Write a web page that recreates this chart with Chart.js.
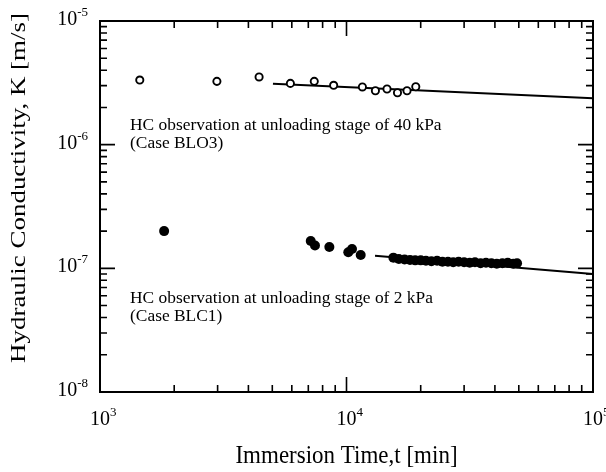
<!DOCTYPE html>
<html><head><meta charset="utf-8">
<script src="https://cdn.jsdelivr.net/npm/chart.js@4/dist/chart.umd.min.js"></script>
<style>html,body{margin:0;padding:0;background:#fff}#wrap{width:606px;height:472px}</style>
</head><body><div id="wrap"><canvas id="c" width="606" height="472"></canvas></div>
<script>
// ---- data ----
const blo3Time = [1450, 2980, 4420, 5920, 7400, 8870, 11600, 13100, 14600, 16100, 17600, 19100];
const blo3K    = [3.33e-6, 3.25e-6, 3.53e-6, 3.13e-6, 3.25e-6, 3.02e-6, 2.93e-6, 2.73e-6, 2.82e-6, 2.63e-6, 2.73e-6, 2.94e-6];

const blc1Time = [1820, 7160, 7450, 8520, 10170, 10530, 11420,
                  15500, 16300, 17200, 18100, 19000, 20000, 21000, 22100, 23300, 24500, 25800, 27100,
                  28500, 30000, 31600, 33200, 35000, 36800, 38700, 40700, 42900, 45100, 47500, 49200];
const blc1K    = [2.0e-7, 1.665e-7, 1.53e-7, 1.49e-7, 1.35e-7, 1.435e-7, 1.28e-7,
                  1.22e-7, 1.19e-7, 1.18e-7, 1.17e-7, 1.16e-7, 1.16e-7, 1.15e-7, 1.14e-7, 1.15e-7, 1.13e-7, 1.13e-7, 1.12e-7,
                  1.13e-7, 1.12e-7, 1.11e-7, 1.12e-7, 1.10e-7, 1.11e-7, 1.10e-7, 1.09e-7, 1.10e-7, 1.11e-7, 1.09e-7, 1.10e-7];

const fit40Time = [5030, 100000];
const fit40K    = [3.11e-6, 2.37e-6];
const fit2Time  = [13050, 100000];
const fit2K     = [1.266e-7, 9.01e-8];

const xTickExps = [3, 4, 5];
const yTickExps = [-8, -7, -6, -5];
const xTitle = "Immersion Time,t [min]";
const yTitle = "Hydraulic Conductivity, K [m/s]";
const notes = [
  {t: 1324, k: 1.315e-6, lines: ["HC observation at unloading stage of 40 kPa", "(Case BLO3)"]},
  {t: 1324, k: 5.25e-8, lines: ["HC observation at unloading stage of 2 kPa", "(Case BLC1)"]}
];

const pts = (xs, ys) => xs.map((x, i) => ({x: x, y: ys[i]}));
const SERIF = '"Liberation Serif", "Times New Roman", serif';

const framePlugin = {
  id: 'frame',
  afterDraw(chart) {
    const ctx = chart.ctx, a = chart.chartArea;
    const xs = chart.scales.x, ys = chart.scales.y;
    ctx.save();
    ctx.strokeStyle = '#000'; ctx.fillStyle = '#000';
    ctx.lineWidth = 2;
    ctx.strokeRect(a.left, a.top, a.right - a.left, a.bottom - a.top);
    ctx.lineWidth = 1.6;
    ctx.beginPath();
    for (let e = xTickExps[0]; e < xTickExps[xTickExps.length - 1]; e++) {
      for (let m = 1; m <= 9; m++) {
        const px = xs.getPixelForValue(m * Math.pow(10, e));
        const len = (m === 1) ? 15 : 7;
        ctx.moveTo(px, a.bottom); ctx.lineTo(px, a.bottom - len);
        ctx.moveTo(px, a.top); ctx.lineTo(px, a.top + len);
      }
    }
    for (let e = yTickExps[0]; e < yTickExps[yTickExps.length - 1]; e++) {
      for (let m = 1; m <= 9; m++) {
        const py = ys.getPixelForValue(m * Math.pow(10, e));
        const len = (m === 1) ? 15 : 7;
        ctx.moveTo(a.left, py); ctx.lineTo(a.left + len, py);
        ctx.moveTo(a.right, py); ctx.lineTo(a.right - len, py);
      }
    }
    ctx.stroke();

    const big = '20px ' + SERIF, small = '13px ' + SERIF;
    ctx.textBaseline = 'alphabetic';
    xTickExps.forEach(e => {
      const px = xs.getPixelForValue(Math.pow(10, e));
      ctx.font = big; const w = ctx.measureText('10').width;
      ctx.textAlign = 'left';
      ctx.fillText('10', px - w / 2, a.bottom + 33);
      ctx.font = small;
      ctx.fillText(String(e), px + w / 2, a.bottom + 24);
    });
    yTickExps.forEach(e => {
      const py = ys.getPixelForValue(Math.pow(10, e));
      ctx.font = small; const sw = ctx.measureText('-' + Math.abs(e)).width;
      ctx.font = big; const w = ctx.measureText('10').width;
      const right = a.left - 12;
      ctx.textAlign = 'left';
      ctx.fillText('10', right - sw - w, py + 4);
      ctx.font = small;
      ctx.fillText('-' + Math.abs(e), right - sw, py - 5);
    });
    // axis titles
    ctx.textAlign = 'center';
    ctx.save();
    ctx.translate((a.left + a.right) / 2, 463);
    ctx.scale(1, 1.12);
    ctx.font = '23px ' + SERIF;
    ctx.fillText(xTitle, 0, 0);
    ctx.restore();
    ctx.save();
    ctx.translate(25, 188);
    ctx.rotate(-Math.PI / 2);
    ctx.font = '22px ' + SERIF;
    const tw = ctx.measureText(yTitle).width;
    ctx.scale(350 / tw, 1);
    ctx.fillText(yTitle, 0, 0);
    ctx.restore();
    // annotations
    ctx.font = '17.4px ' + SERIF;
    ctx.textAlign = 'left';
    notes.forEach(n => {
      const px = xs.getPixelForValue(n.t), py = ys.getPixelForValue(n.k);
      n.lines.forEach((s, i) => ctx.fillText(s, px, py + i * 18.5));
    });
    ctx.restore();
  }
};

new Chart(document.getElementById('c'), {
  type: 'scatter',
  data: {
    datasets: [
      {data: pts(fit40Time, fit40K), showLine: true, borderColor: '#000', borderWidth: 2, pointRadius: 0, order: 3},
      {data: pts(fit2Time, fit2K), showLine: true, borderColor: '#000', borderWidth: 2, pointRadius: 0, order: 4},
      {data: pts(blo3Time, blo3K), pointStyle: 'circle', pointRadius: 3.6, borderWidth: 1.9, borderColor: '#000', backgroundColor: '#fff', order: 1},
      {data: pts(blc1Time, blc1K), pointStyle: 'circle', pointRadius: 5, borderWidth: 0, borderColor: '#000', backgroundColor: '#000', order: 2}
    ]
  },
  options: {
    responsive: false, animation: false, devicePixelRatio: 1,
    layout: {padding: {left: 100, right: 13, top: 21, bottom: 80}},
    plugins: {legend: {display: false}, tooltip: {enabled: false}},
    scales: {
      x: {type: 'logarithmic', min: 1000, max: 100000, display: false},
      y: {type: 'logarithmic', min: 1e-8, max: 1e-5, display: false}
    }
  },
  plugins: [framePlugin]
});
</script></body></html>
